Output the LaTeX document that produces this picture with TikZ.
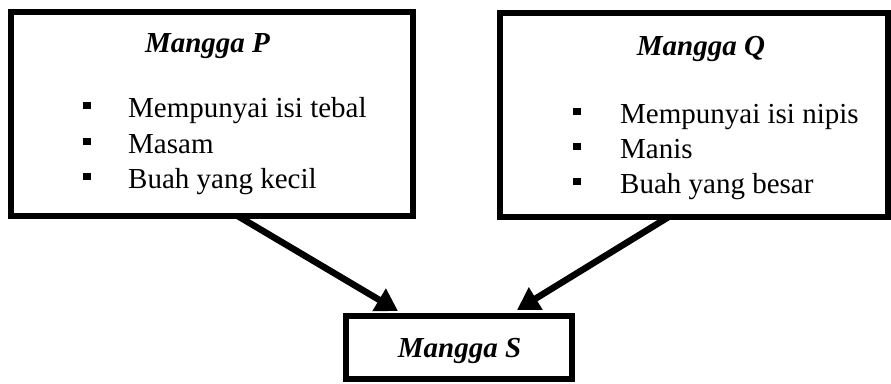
\documentclass[tikz,border=0pt]{standalone}
\usepackage{fontspec}
\setmainfont{Liberation Serif}
\usetikzlibrary{arrows.meta}
\begin{document}
\begin{tikzpicture}[x=1pt,y=-1pt,
  boxnode/.style={draw=black, line width=6pt, fill=white, inner sep=0pt, outer sep=0pt},
  title/.style={font=\fontsize{29}{34}\selectfont\bfseries\itshape, inner sep=0pt, anchor=base},
  item/.style={font=\fontsize{29}{34}\selectfont, inner sep=0pt, anchor=base west},
  bul/.style={fill=black, draw=none, minimum size=7.5pt, inner sep=0pt, outer sep=0pt},
  conn/.style={line width=6.5pt, -{Triangle[length=22pt,width=25pt]}}]
\clip (0,0) rectangle (891,383);
\fill[white] (0,0) rectangle (891,383);
% boxes (geometry only, drawn after arrows)
\path (212,114) node[minimum width=402pt, minimum height=204pt, inner sep=0pt, outer sep=0pt] (P) {};
\path (694,115) node[minimum width=388pt, minimum height=204pt, inner sep=0pt, outer sep=0pt] (Q) {};
\path (459,347.5) node[minimum width=226pt, minimum height=63pt, inner sep=0pt, outer sep=0pt] (S) {};
% connectors
\draw[conn] ([xshift=19pt,yshift=4pt]P.south) -- ([xshift=-61pt,yshift=5pt]S.north);
\draw[conn] ([xshift=-19pt,yshift=4pt]Q.south) -- ([xshift=58pt,yshift=6pt]S.north);
% visible boxes
\node[boxnode, minimum width=402pt, minimum height=204pt] (Pbox) at (P) {};
\node[boxnode, minimum width=388pt, minimum height=204pt] (Qbox) at (Q) {};
\node[boxnode, minimum width=226pt, minimum height=63pt] (Sbox) at (S) {};
% left box text
\node[title] (tP) at (207.5,52) {Mangga P};
\node[bul] (bP1) at (87,105.5) {};
\node[bul] (bP2) at (87,141.5) {};
\node[bul] (bP3) at (87,176.5) {};
\node[item] (iP1) at (128,117) {Mempunyai isi tebal};
\node[item] (iP2) at (128,153) {Masam};
\node[item] (iP3) at (128,188) {Buah yang kecil};
% right box text
\node[title] (tQ) at (701,55) {Mangga Q};
\node[bul] (bQ1) at (577,111.5) {};
\node[bul] (bQ2) at (577,146.5) {};
\node[bul] (bQ3) at (577,181.5) {};
\node[item] (iQ1) at (620,123) {Mempunyai isi nipis};
\node[item] (iQ2) at (620,158) {Manis};
\node[item] (iQ3) at (620,193) {Buah yang besar};
% bottom box text
\node[title] (tS) at (459.5,357) {Mangga S};
\end{tikzpicture}
\end{document}
